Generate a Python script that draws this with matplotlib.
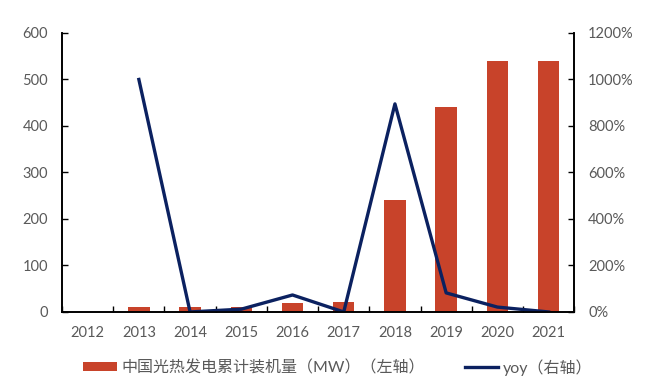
import matplotlib.pyplot as plt
from matplotlib.ticker import FuncFormatter
import numpy as np

plt.rcParams['font.family'] = ['Lato', 'Noto Sans CJK SC', 'DejaVu Sans']

years = ["2012", "2013", "2014", "2015", "2016", "2017", "2018", "2019", "2020", "2021"]
capacity = [0, 10, 10, 11, 20, 22, 240, 440, 540, 540]
yoy_years = ["2013", "2014", "2015", "2016", "2017", "2018", "2019", "2020", "2021"]
yoy = [1000, 0, 12, 73, 0, 895, 82, 21, 0]

bar_color = "#C8432A"
line_color = "#0B2160"
label_color = "#595959"

fig = plt.figure(figsize=(6.6, 3.88), dpi=100)
ax = fig.add_axes([0.094, 0.196, 0.776, 0.719])
ax2 = ax.twinx()

x = np.arange(len(years))
bars = ax.bar(x, capacity, width=0.42, color=bar_color, label="中国光热发电累计装机量（MW）（左轴）")
xl = [years.index(y) for y in yoy_years]
line, = ax2.plot(xl, yoy, color=line_color, linewidth=2.4, label="yoy（右轴）")

ax.set_xlim(-0.5, len(years) - 0.5)
ax.set_ylim(0, 600)
ax.set_yticks(range(0, 601, 100))
ax2.set_ylim(0, 1200)
ax2.set_yticks(range(0, 1201, 200))
ax2.yaxis.set_major_formatter(FuncFormatter(lambda v, p: f"{int(v)}%"))

ax.set_xticks(x)
ax.set_xticklabels(years)
ax.set_xticks(np.arange(-0.5, len(years), 1), minor=True)
ax.tick_params(axis="x", which="major", length=0, pad=10, labelcolor=label_color, labelsize=10.5)
ax.tick_params(axis="x", which="minor", direction="in", length=4, width=1, color="black")
ax.tick_params(axis="y", direction="in", length=4, width=1, pad=10, labelcolor=label_color, labelsize=10.5)
ax2.tick_params(axis="y", direction="in", length=4, width=1, pad=10, labelcolor=label_color, labelsize=10.5)

for a in (ax, ax2):
    a.spines["top"].set_visible(False)
    for s in ("left", "right", "bottom"):
        a.spines[s].set_linewidth(1.2)
        a.spines[s].set_color("black")

fig.legend([bars, line], [bars.get_label(), line.get_label()], loc="lower center",
           bbox_to_anchor=(0.512, -0.005), ncol=2, frameon=False, fontsize=11.5,
           labelcolor=label_color, handlelength=2.1, handleheight=0.5,
           handletextpad=0.3, columnspacing=2.5)

plt.savefig("out.png", dpi=100)
plt.close()
